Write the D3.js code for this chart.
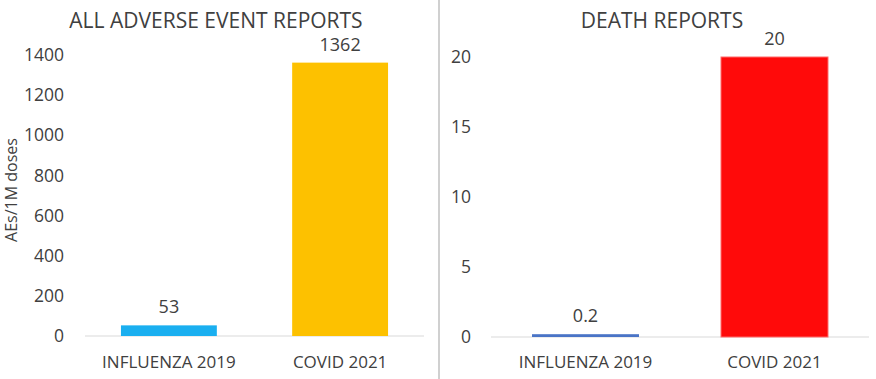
<!DOCTYPE html>
<html>
<head>
<meta charset="utf-8">
<script src="https://cdn.jsdelivr.net/npm/d3@7"></script>
<style>
  html, body { margin: 0; padding: 0; background: #fff; }
  svg { display: block; }
  text { font-family: "Open Sans", Lato, sans-serif; fill: #404040; }
</style>
</head>
<body>
<svg id="chart" width="876" height="379"></svg>
<script>
// ---- data ----
const categories = ["INFLUENZA 2019", "COVID 2021"];
const aeValues = [53, 1362];
const deathValues = [0.2, 20];
const aeTicks = [0, 200, 400, 600, 800, 1000, 1200, 1400];
const deathTicks = [0, 5, 10, 15, 20];
const aeTitle = "ALL ADVERSE EVENT REPORTS";
const deathTitle = "DEATH REPORTS";
const aeYLabel = "AEs/1M doses";
const aeColors = ["#1aaff0", "#fdc100"];
const deathColors = ["#4a74c6", "#ff0a0a"];

const svg = d3.select("#chart");

// divider between panels
svg.append("line")
  .attr("x1", 439).attr("x2", 439).attr("y1", 0).attr("y2", 379)
  .attr("stroke", "#d0d0d0").attr("stroke-width", 2);

function drawPanel(opt) {
  const g = svg.append("g");
  const x = d3.scaleBand().domain(categories).range([opt.x0, opt.x1])
    .paddingInner(opt.padIn).paddingOuter(opt.padOut);
  const y = d3.scaleLinear().domain([0, d3.max(opt.ticks)]).range([opt.yBottom, opt.yTop]);

  // baseline
  g.append("line")
    .attr("x1", opt.x0).attr("x2", opt.x1)
    .attr("y1", y(0)).attr("y2", y(0))
    .attr("stroke", "#d9d9d9").attr("stroke-width", 1);

  // y axis tick labels
  const yAxis = d3.axisLeft(y).tickValues(opt.ticks).tickSize(0).tickPadding(0)
    .tickFormat(d3.format("d"));
  const ya = g.append("g").attr("transform", `translate(${opt.tickX},0)`).call(yAxis);
  ya.select(".domain").remove();
  ya.selectAll("text").style("font-size", "17.5px").attr("fill", "#404040")
    .style("font-family", "'Open Sans', Lato, sans-serif");

  // x axis labels
  const xAxis = d3.axisBottom(x).tickSize(0).tickPadding(0);
  const xa = g.append("g").attr("transform", `translate(0,${opt.catY})`).call(xAxis);
  xa.select(".domain").remove();
  xa.selectAll("text").style("font-size", "17px").attr("fill", "#404040")
    .style("font-family", "'Open Sans', Lato, sans-serif").attr("dy", "0.35em").attr("y", 0);

  // bars
  const data = categories.map((c, i) => ({ c, v: opt.values[i], col: opt.colors[i] }));
  g.selectAll("rect.bar").data(data).enter().append("rect")
    .attr("class", "bar")
    .attr("x", d => x(d.c)).attr("width", x.bandwidth())
    .attr("y", d => y(d.v)).attr("height", d => Math.max(0, y(0) - y(d.v)))
    .attr("fill", d => d.col)
    .attr("stroke", (d, i) => opt.strokes && opt.strokes[i] ? opt.strokes[i] : "none")
    .attr("stroke-width", 1);

  // value labels
  g.selectAll("text.val").data(data).enter().append("text")
    .attr("class", "val")
    .attr("x", d => x(d.c) + x.bandwidth() / 2)
    .attr("y", d => y(d.v) - 12)
    .attr("text-anchor", "middle")
    .style("font-size", "18px")
    .text(d => d.v);

  // title
  g.append("text")
    .attr("x", opt.titleX).attr("y", 28)
    .attr("text-anchor", "middle")
    .style("font-size", "21px")
    .text(opt.title);

  if (opt.yLabel) {
    g.append("text")
      .attr("transform", `translate(17,${opt.yLabelY}) rotate(-90)`)
      .attr("text-anchor", "middle")
      .style("font-size", "16px")
      .text(opt.yLabel);
  }
}

drawPanel({
  x0: 85, x1: 424, padIn: 0.44, padOut: 0.21,
  yBottom: 336, yTop: 55, ticks: aeTicks, values: aeValues, colors: aeColors,
  tickX: 64, catY: 362, title: aeTitle, titleX: 216, yLabel: aeYLabel, yLabelY: 190
});

drawPanel({
  x0: 491, x1: 869, padIn: 0.434, padOut: 0.217,
  yBottom: 337, yTop: 57, ticks: deathTicks, values: deathValues, colors: deathColors,
  strokes: [null, "#ff6a6a"],
  tickX: 471, catY: 362, title: deathTitle, titleX: 662
});
</script>
</body>
</html>
